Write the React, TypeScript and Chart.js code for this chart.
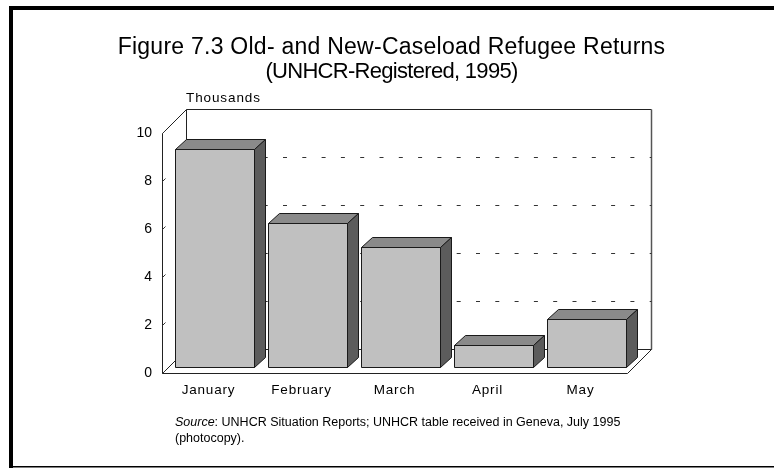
import React, { useEffect, useRef } from "react";
import { Chart, registerables } from "chart.js";

Chart.register(...registerables);

const months = ["January", "February", "March", "April", "May"];
const returnsThousands = [9.1, 6.0, 5.0, 0.9, 2.0];
const yTickValues = [0, 2, 4, 6, 8, 10];
const backGridValues = [2, 4, 6, 8];
const titleLines = ["Figure 7.3 Old- and New-Caseload Refugee Returns", "(UNHCR-Registered, 1995)"];
const unitLabel = "Thousands";
const sourceWord = "Source";
const sourceRest = ": UNHCR Situation Reports; UNHCR table received in Geneva, July 1995";
const sourceLine2 = "(photocopy).";

const FONT = "'Liberation Sans', Arial, Helvetica, sans-serif";
const WALL_DEPTH = 24;
const BAR_OFFSET = 6;
const BAR_DX = 11;
const BAR_DY = 10;

function setSpacing(ctx: any, px: number) {
  if ("letterSpacing" in ctx) ctx.letterSpacing = `${px}px`;
}

const threeDPlugin = {
  id: "threeD",
  beforeDraw(chart: any) {
    const ctx = chart.ctx;
    ctx.save();
    ctx.fillStyle = "#ffffff";
    ctx.fillRect(0, 0, chart.width, chart.height);
    // figure frame
    ctx.fillStyle = "#000000";
    ctx.fillRect(9, 6, chart.width - 9, 4);
    ctx.fillRect(9, 6, 4, chart.height - 6);
    ctx.fillRect(9, 466, chart.width - 9, 1.5);
    // title
    ctx.fillStyle = "#000000";
    ctx.textAlign = "center";
    ctx.textBaseline = "alphabetic";
    ctx.font = `23px ${FONT}`;
    setSpacing(ctx, 0.25);
    ctx.fillText(titleLines[0], 391.5, 53.5);
    ctx.font = `22px ${FONT}`;
    setSpacing(ctx, -0.7);
    ctx.fillText(titleLines[1], 391.5, 77.5);
    setSpacing(ctx, 0);
    // source
    ctx.textAlign = "left";
    ctx.font = `italic 12.5px ${FONT}`;
    ctx.fillText(sourceWord, 175, 426);
    const w = ctx.measureText(sourceWord).width;
    ctx.font = `12.5px ${FONT}`;
    ctx.fillText(sourceRest, 175 + w, 426);
    ctx.fillText(sourceLine2, 175, 442);
    ctx.restore();
  },
  beforeDatasetsDraw(chart: any) {
    const ctx = chart.ctx;
    const { left, right, top, bottom } = chart.chartArea;
    const ys = chart.scales.y;
    const xs = chart.scales.x;
    const d = WALL_DEPTH;
    ctx.save();
    ctx.lineWidth = 1;
    ctx.strokeStyle = "#222222";
    const L = Math.round(left) + 0.5;
    const R = Math.round(right) + 0.5;
    const T = Math.round(top) + 0.5;
    const B = Math.round(bottom) + 0.5;
    // back wall
    ctx.beginPath();
    ctx.moveTo(L + d, B - d);
    ctx.lineTo(L + d, T - d);
    ctx.lineTo(R + d, T - d);
    ctx.stroke();
    ctx.lineWidth = 1.5;
    ctx.strokeStyle = "#555555";
    ctx.beginPath();
    ctx.moveTo(R + d, T - d);
    ctx.lineTo(R + d, B - d);
    ctx.stroke();
    ctx.lineWidth = 1;
    ctx.strokeStyle = "#222222";
    // left wall
    ctx.beginPath();
    ctx.moveTo(L + d, T - d);
    ctx.lineTo(L, T);
    ctx.lineTo(L, B);
    ctx.stroke();
    // floor
    ctx.beginPath();
    ctx.moveTo(L, B);
    ctx.lineTo(R, B);
    ctx.lineTo(R + d, B - d);
    ctx.lineTo(L + d, B - d);
    ctx.closePath();
    ctx.stroke();
    // dashed gridlines on back wall
    ctx.strokeStyle = "#333333";
    ctx.setLineDash([4, 15.3]);
    backGridValues.forEach((v) => {
      const yy = Math.round(ys.getPixelForValue(v)) - d + 0.5;
      ctx.beginPath();
      ctx.moveTo(L + d, yy);
      ctx.lineTo(R + d, yy);
      ctx.stroke();
    });
    ctx.setLineDash([]);
    // y ticks and labels
    ctx.fillStyle = "#000000";
    ctx.font = `14px ${FONT}`;
    ctx.textAlign = "right";
    ctx.textBaseline = "middle";
    yTickValues.forEach((v) => {
      const yy = ys.getPixelForValue(v);
      ctx.fillText(String(v), left - 10, yy + 0.5);
      ctx.beginPath();
      ctx.moveTo(L, Math.round(yy) + 0.5);
      ctx.lineTo(L + 3, Math.round(yy) - 2.5);
      ctx.stroke();
    });
    // unit label
    ctx.textAlign = "left";
    ctx.textBaseline = "alphabetic";
    ctx.font = `13.5px ${FONT}`;
    setSpacing(ctx, 0.9);
    ctx.fillText(unitLabel, 186, 102);
    // x labels
    ctx.textAlign = "center";
    ctx.textBaseline = "middle";
    ctx.font = `13.5px ${FONT}`;
    setSpacing(ctx, 0.8);
    months.forEach((m, i) => {
      ctx.fillText(m, xs.getPixelForValue(i), 390);
    });
    setSpacing(ctx, 0);
    ctx.restore();
  },
  afterDatasetsDraw(chart: any) {
    const ctx = chart.ctx;
    const meta = chart.getDatasetMeta(0);
    ctx.save();
    ctx.lineWidth = 1;
    ctx.strokeStyle = "#1a1a1a";
    ctx.lineJoin = "miter";
    meta.data.forEach((el: any) => {
      const p = el.getProps(["x", "y", "base", "width"], true);
      const x0 = Math.round(p.x - p.width / 2 + BAR_OFFSET) + 0.5;
      const x1 = Math.round(p.x + p.width / 2 + BAR_OFFSET) + 0.5;
      const yt = Math.round(p.y - BAR_OFFSET) + 0.5;
      const yb = Math.round(p.base - BAR_OFFSET) + 0.5;
      // front
      ctx.fillStyle = "#c0c0c0";
      ctx.beginPath();
      ctx.rect(x0, yt, x1 - x0, yb - yt);
      ctx.fill();
      ctx.stroke();
      // top
      ctx.fillStyle = "#8a8a8a";
      ctx.beginPath();
      ctx.moveTo(x0, yt);
      ctx.lineTo(x0 + BAR_DX, yt - BAR_DY);
      ctx.lineTo(x1 + BAR_DX, yt - BAR_DY);
      ctx.lineTo(x1, yt);
      ctx.closePath();
      ctx.fill();
      ctx.stroke();
      // side
      ctx.fillStyle = "#5c5c5c";
      ctx.beginPath();
      ctx.moveTo(x1, yt);
      ctx.lineTo(x1 + BAR_DX, yt - BAR_DY);
      ctx.lineTo(x1 + BAR_DX, yb - BAR_DY);
      ctx.lineTo(x1, yb);
      ctx.closePath();
      ctx.fill();
      ctx.stroke();
    });
    ctx.restore();
  },
};

export default function App() {
  const canvasRef = useRef<HTMLCanvasElement | null>(null);

  useEffect(() => {
    document.body.style.margin = "0";
    const canvas = canvasRef.current;
    if (!canvas) return;
    const chart = new Chart(canvas, {
      type: "bar",
      data: {
        labels: months,
        datasets: [
          {
            label: "Returns (thousands)",
            data: returnsThousands,
            backgroundColor: "rgba(0,0,0,0)",
            borderWidth: 0,
            barPercentage: 0.86,
            categoryPercentage: 1,
          },
        ],
      },
      options: {
        animation: false,
        responsive: false,
        devicePixelRatio: 1,
        layout: { padding: { left: 162, right: 147, top: 133, bottom: 95 } },
        plugins: {
          legend: { display: false },
          tooltip: { enabled: false },
          title: { display: false },
        },
        scales: {
          x: { display: false, offset: true },
          y: { display: false, min: 0, max: 10 },
        },
      },
      plugins: [threeDPlugin],
    });
    return () => chart.destroy();
  }, []);

  return (
    <div style={{ position: "absolute", left: 0, top: 0, width: 774, height: 468 }}>
      <canvas ref={canvasRef} width={774} height={468} style={{ width: 774, height: 468 }} />
    </div>
  );
}
